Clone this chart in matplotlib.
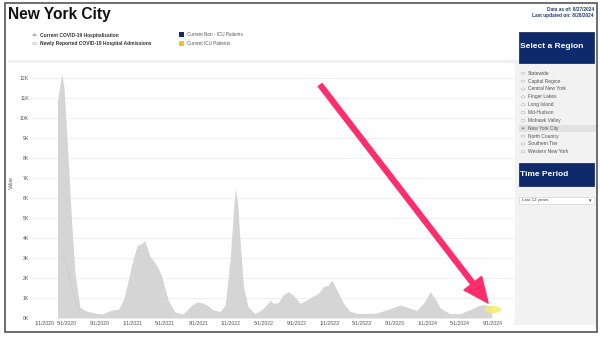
import pandas as pd
import matplotlib.pyplot as plt
import matplotlib.dates as mdates
from matplotlib.patches import Rectangle, Ellipse, Circle

plt.rcParams['font.family'] = ['Liberation Sans', 'DejaVu Sans']

# hospitalized patients in NYC, thousands
dates = ['2020-03-27', '2020-04-04', '2020-04-12', '2020-04-20', '2020-05-05', '2020-05-19',
         '2020-05-31', '2020-06-18', '2020-07-07', '2020-08-13', '2020-09-08', '2020-10-15',
         '2020-11-08', '2020-11-26', '2020-12-03', '2020-12-28', '2021-01-16', '2021-02-10',
         '2021-02-13', '2021-03-05', '2021-03-30', '2021-04-18', '2021-05-12', '2021-06-06',
         '2021-07-07', '2021-08-08', '2021-08-26', '2021-09-14', '2021-10-03', '2021-10-27',
         '2021-11-21', '2021-12-10', '2021-12-28', '2022-01-10', '2022-01-16', '2022-01-25',
         '2022-02-04', '2022-02-16', '2022-03-05', '2022-03-30', '2022-04-24', '2022-05-12',
         '2022-05-27', '2022-06-06', '2022-06-25', '2022-07-13', '2022-08-01', '2022-08-20',
         '2022-09-14', '2022-10-09', '2022-11-02', '2022-11-21', '2022-12-10', '2022-12-28',
         '2023-01-10', '2023-01-29', '2023-02-23', '2023-03-17', '2023-04-12', '2023-05-06',
         '2023-06-25', '2023-08-08', '2023-09-21', '2023-10-15', '2023-11-22', '2023-12-22',
         '2024-01-10', '2024-01-29', '2024-02-17', '2024-03-24', '2024-05-01', '2024-06-07',
         '2024-07-08', '2024-07-26', '2024-08-20', '2024-08-27']
hosp_k = [10.9, 11.6, 12.2, 11.5, 8.1, 4.6,
          2.2, 0.55, 0.37, 0.25, 0.2, 0.4,
          0.43, 0.9, 1.2, 2.7, 3.6, 3.8,
          3.9, 3.1, 2.65, 2.1, 0.9, 0.3,
          0.2, 0.65, 0.8, 0.77, 0.65, 0.4,
          0.33, 0.65, 2.9, 5.4, 6.45, 5.8,
          3.7, 1.57, 0.57, 0.23, 0.4, 0.65,
          0.9, 0.73, 0.77, 1.15, 1.32, 1.15,
          0.73, 0.9, 1.1, 1.23, 1.57, 1.65,
          1.9, 1.4, 0.73, 0.35, 0.23, 0.22,
          0.25, 0.43, 0.65, 0.55, 0.38, 0.82,
          1.32, 0.98, 0.5, 0.22, 0.22, 0.42,
          0.62, 0.67, 0.6, 0.55]

# faint ICU boundary visible inside the first wave
icu_dates = ['2020-04-17', '2020-04-21', '2020-04-30', '2020-05-12', '2020-05-24', '2020-06-06', '2020-06-18']
icu_k = [3.2, 2.9, 2.6, 1.93, 1.23, 0.73, 0.3]

tick_dates = pd.date_range('2020-01-01', '2024-09-01', freq='4MS')
y_ticks = list(range(0, 13))
regions = ['Statewide', 'Capital Region', 'Central New York', 'Finger Lakes', 'Long Island',
           'Mid-Hudson', 'Mohawk Valley', 'New York City', 'North Country', 'Southern Tier',
           'Western New York']
selected_region = 'New York City'

W, H = 600, 339
NAVY = '#0f2a6b'


def fx(x):
    return x / W


def fy(y):
    return 1 - y / H


def box(x0, y0, x1, y1, **kw):
    r = Rectangle((fx(x0), fy(y1)), (x1 - x0) / W, (y1 - y0) / H,
                  transform=fig.transFigure, **kw)
    fig.add_artist(r)
    return r


def dot(x, y, r=2.0, selected=False):
    c = Circle((fx(x), fy(y)), r / W, transform=fig.transFigure,
               facecolor='white', edgecolor='#b0b0b0', lw=0.4, zorder=2)
    fig.add_artist(c)
    if selected:
        fig.add_artist(Circle((fx(x), fy(y)), 0.9 / W, transform=fig.transFigure,
                              facecolor='#444', edgecolor='none', zorder=3))


fig = plt.figure(figsize=(6, 3.39), dpi=100)
fig.patch.set_facecolor('white')

# panels and frame
box(8, 60, 597, 63, facecolor='#f0f0f0', edgecolor='none', zorder=-2)
box(514, 63, 597, 325, facecolor='#f2f2f2', edgecolor='none', zorder=-2)
box(5, 2.5, 597, 332, facecolor='none', edgecolor='#555555', lw=1.2, zorder=5)

# header
fig.text(fx(8), fy(19.5), 'New York City', fontsize=11.2, fontweight='bold', color='#111')
fig.text(fx(594), fy(10.8), 'Data as of: 8/27/2024', fontsize=3.4, fontweight='bold',
         color='#1f3a73', ha='right')
fig.text(fx(594), fy(16.8), 'Last updated on: 8/28/2024', fontsize=3.4, fontweight='bold',
         color='#1f3a73', ha='right')

dot(34.5, 35, selected=True)
dot(34.5, 43.5)
fig.text(fx(40), fy(36.6), 'Current COVID-19 Hospitalization', fontsize=3.5,
         fontweight='bold', color='#333')
fig.text(fx(40), fy(45.1), 'Newly Reported COVID-19 Hospital Admissions', fontsize=3.5,
         fontweight='bold', color='#333')
box(179, 32, 184, 37, facecolor='#1a2a6c', edgecolor='none')
box(179, 41, 184, 46, facecolor='#f4c21b', edgecolor='none')
fig.text(fx(187), fy(36.3), 'Current Non - ICU Patients', fontsize=3.3, color='#555')
fig.text(fx(187), fy(45.3), 'Current ICU Patients', fontsize=3.3, color='#555')

# sidebar
box(519, 32, 594, 63, facecolor=NAVY, edgecolor='#0a1f55', lw=0.5)
fig.text(fx(520), fy(46), 'Select a Region', fontsize=6, fontweight='bold',
         color='white', va='center')
for i, name in enumerate(regions):
    y = 73.3 + i * 7.85
    if name == selected_region:
        box(519, y - 3.6, 596, y + 3.6, facecolor='#e2e2e2', edgecolor='none', zorder=1)
    dot(523, y, r=1.9, selected=(name == selected_region))
    fig.text(fx(528), fy(y), name, fontsize=3.5, color='#555', va='center', zorder=3)

box(519, 163, 594, 186, facecolor=NAVY, edgecolor='#0a1f55', lw=0.5)
fig.text(fx(520), fy(174.5), 'Time Period', fontsize=6, fontweight='bold',
         color='white', va='center')
box(519, 196.5, 594, 204, facecolor='white', edgecolor='#cccccc', lw=0.4)
fig.text(fx(522), fy(200.3), 'Last 12 years', fontsize=3.2, color='#444', va='center')
fig.text(fx(590), fy(200.3), '\u25BE', fontsize=3.5, color='#444', va='center', ha='center',
         family=['DejaVu Sans'])

# chart
ax = fig.add_axes([fx(32), fy(318), (515 - 32) / W, (318 - 68) / H])
ax.set_facecolor('white')
x = pd.to_datetime(dates)
ax.fill_between(x, 0, hosp_k, color='#d5d5d5', lw=0, zorder=2)
ax.plot(pd.to_datetime(icu_dates), icu_k, color='#cacaca', lw=0.5, zorder=2.5)

ax.set_ylim(0, 12.5)
ax.set_yticks(y_ticks)
ax.set_yticklabels([f'{v}K' for v in y_ticks])
ax.set_xlim(pd.Timestamp('2019-12-23'), pd.Timestamp('2024-11-21'))
ax.set_xticks(tick_dates)
ax.set_xticklabels([f'{d.month}/{d.day}/{d.year}' for d in tick_dates])
ax.get_xticklabels()[0].set_ha('left')
ax.tick_params(length=0, labelsize=3.7, colors='#555', pad=2)
ax.grid(axis='y', color='#ececec', lw=0.6, zorder=0)
ax.set_axisbelow(True)
for s in ax.spines.values():
    s.set_visible(False)
ax.set_ylabel('Value', fontsize=3.7, color='#555')
ax.yaxis.set_label_coords((14 - 32) / 483, (318 - 183) / 250)

# highlight + arrow pointing at the latest values
ax.add_patch(Ellipse((mdates.date2num(pd.Timestamp('2024-08-31')), 0.42), width=62, height=0.36,
                     facecolor='#f6ee6e', edgecolor='none', alpha=0.85, zorder=3))
ax.annotate('', xy=(mdates.date2num(pd.Timestamp('2024-08-13')), 0.75),
            xytext=(mdates.date2num(pd.Timestamp('2022-11-28')), 11.65),
            arrowprops=dict(arrowstyle='simple,head_length=1.8,head_width=1.6,tail_width=0.35',
                            mutation_scale=10, color='#fe2d6c', shrinkA=0, shrinkB=0),
            annotation_clip=False, zorder=4)

fig.savefig('out.png', dpi=100)
